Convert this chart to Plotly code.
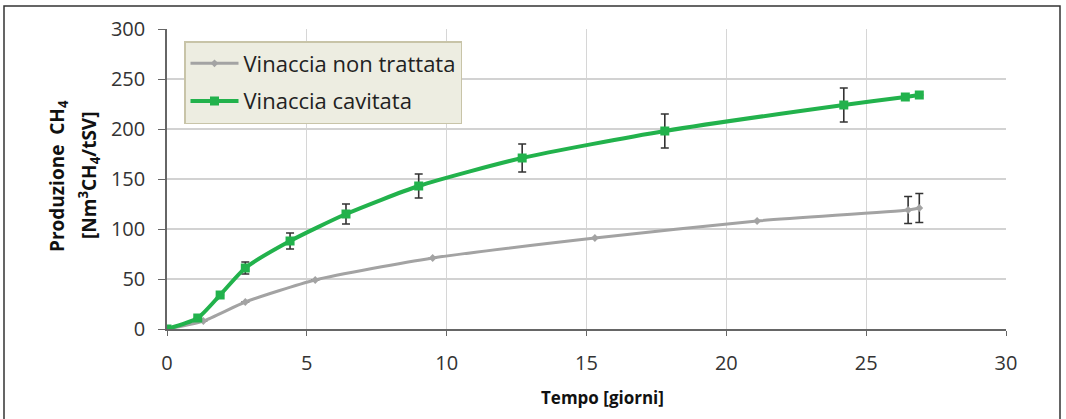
import plotly.graph_objects as go

# Vinaccia cavitata
days_cav = [0, 1.1, 1.9, 2.8, 4.4, 6.4, 9.0, 12.7, 17.8, 24.2, 26.4, 26.9]
ch4_cav = [0, 11, 34, 61, 88, 115, 143, 171, 198, 224, 232, 234]
err_cav = [0, 0, 0, 6, 8, 10, 12, 14, 17, 17, 0, 0]

# Vinaccia non trattata
days_raw = [0, 1.3, 2.8, 5.3, 9.5, 15.3, 21.1, 26.5, 26.9]
ch4_raw = [0, 8, 27, 49, 71, 91, 108, 119, 121]
err_raw = [0, 0, 0, 0, 0, 0, 0, 13.5, 14.5]

x_ticks = [0, 5, 10, 15, 20, 25, 30]
y_ticks = [0, 50, 100, 150, 200, 250, 300]

FONT = "'Open Sans', sans-serif"
GREEN = "#22B24C"
GREY = "#A3A3A3"
ERR = "#333333"

fig = go.Figure()

fig.add_trace(go.Scatter(
    x=days_raw, y=ch4_raw, name="Vinaccia non trattata", legendgroup="raw",
    mode="lines+markers", line=dict(color=GREY, width=3, shape="spline", smoothing=0.6),
    marker=dict(symbol="diamond", size=6, color=GREY),
    error_y=dict(type="data", array=err_raw, color=ERR, thickness=1.6, width=4),
))

fig.add_trace(go.Scatter(
    x=days_cav, y=ch4_cav, name="Vinaccia cavitata", legendgroup="cav",
    mode="lines+markers", line=dict(color=GREEN, width=4, shape="spline", smoothing=0.6),
    marker=dict(symbol="square", size=9, color=GREEN),
    error_y=dict(type="data", array=err_cav, color=ERR, thickness=1.6, width=4),
))

L, R, T, B = 167, 60, 29, 90
W, H = 1066, 419
pw = W - L - R
ph = H - T - B

def px_x(p):
    return (p - L) / pw

def px_y(p):
    return (H - B - p) / ph

fig.update_layout(
    width=W, height=H,
    margin=dict(l=L, r=R, t=T, b=B),
    paper_bgcolor="white", plot_bgcolor="white",
    font=dict(family=FONT, size=19, color="#333333"),
    showlegend=True,
    legend=dict(
        x=px_x(184), y=px_y(41), xanchor="left", yanchor="top",
        bgcolor="#EDEDE1", bordercolor="#C8C4A8", borderwidth=1.5,
        font=dict(family=FONT, size=22, color="#222222"),
        itemwidth=48, tracegroupgap=6,
    ),
    xaxis=dict(
        range=[0, 30], tickvals=x_ticks, ticktext=[str(v) for v in x_ticks],
        showgrid=True, gridcolor="#D6D6D6", gridwidth=1,
        showline=True, linecolor="#666666", linewidth=1.5,
        ticks="outside", ticklen=5, tickcolor="#666666",
        zeroline=False, ticklabelstandoff=10,
        tickfont=dict(family=FONT, size=20, color="#333333"),
    ),
    yaxis=dict(
        range=[0, 300], tickvals=y_ticks,
        showgrid=True, gridcolor="#D2D2D2", gridwidth=1.5,
        showline=True, linecolor="#666666", linewidth=1.5,
        ticks="outside", ticklen=7, tickcolor="#666666",
        zeroline=False, ticklabelstandoff=9,
        tickfont=dict(family=FONT, size=20, color="#333333"),
    ),
)

# x-axis title
fig.add_annotation(
    text="<b>Tempo [giorni]</b>",
    xref="paper", yref="paper", x=px_x(602), y=px_y(397),
    showarrow=False, xanchor="center", yanchor="middle",
    font=dict(family=FONT, size=17, color="#111111"),
)

# two-line y-axis title
fig.add_annotation(
    text="<b>Produzione  CH<sub>4</sub></b>",
    xref="paper", yref="paper", x=px_x(58), y=px_y(176),
    textangle=-90, showarrow=False, xanchor="center", yanchor="middle",
    font=dict(family=FONT, size=19, color="#111111"),
)
fig.add_annotation(
    text="<b>[Nm<sup>3</sup>CH<sub>4</sub>/tSV]</b>",
    xref="paper", yref="paper", x=px_x(89), y=px_y(176),
    textangle=-90, showarrow=False, xanchor="center", yanchor="middle",
    font=dict(family=FONT, size=19, color="#111111"),
)

# outer frame around the chart
fig.add_shape(
    type="rect", xref="paper", yref="paper",
    x0=px_x(4), x1=px_x(1060), y0=px_y(440), y1=px_y(6),
    line=dict(color="#333333", width=1.5), layer="below",
)

fig.write_html("out.html")
